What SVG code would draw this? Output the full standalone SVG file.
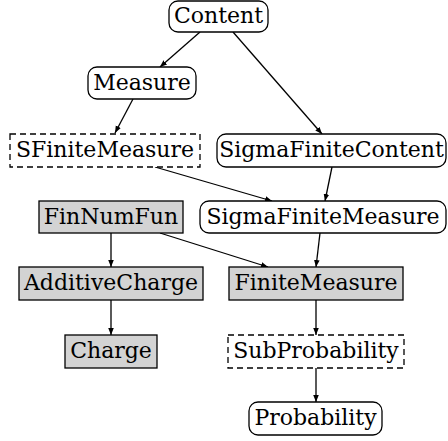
<svg xmlns="http://www.w3.org/2000/svg" width="448" height="441" viewBox="0 0 448 441">
<style>
.n rect{stroke:#000;stroke-width:1.3;fill:#fff}
.n.g rect{fill:#d3d3d3}
.n.d rect{stroke-dasharray:6,4}
.n text{font-family:"DejaVu Serif",serif;font-size:22px;fill:#000;text-anchor:middle;dominant-baseline:central}
#edges line{stroke:#000;stroke-width:1.3;marker-end:url(#a)}
</style>
<defs>
<marker id="a" viewBox="0 0 10 10" refX="10" refY="5" markerWidth="7" markerHeight="7" orient="auto" markerUnits="userSpaceOnUse">
<path d="M0,1 L10,5 L0,9 z" fill="#000"/>
</marker>
</defs>
<rect width="448" height="441" fill="#fff"/>
<g id="edges">
<line x1="200" y1="32" x2="160" y2="67"/>
<line x1="233" y1="32" x2="322" y2="134"/>
<line x1="133" y1="99" x2="115" y2="133"/>
<line x1="155" y1="167" x2="272" y2="201"/>
<line x1="332" y1="167" x2="325" y2="201"/>
<line x1="111" y1="233" x2="111" y2="267"/>
<line x1="160" y1="233" x2="268" y2="267"/>
<line x1="320" y1="233" x2="316" y2="267"/>
<line x1="111" y1="300" x2="111" y2="335"/>
<line x1="316" y1="300" x2="316" y2="335"/>
<line x1="316" y1="368" x2="316" y2="402"/>
</g>
<g id="Content" class="n"><rect x="169" y="1" width="99" height="31" rx="9"/><text x="218.5" y="15.5">Content</text></g>
<g id="Measure" class="n"><rect x="88" y="67" width="108" height="32" rx="9"/><text x="142" y="82">Measure</text></g>
<g id="SFiniteMeasure" class="n d"><rect x="10" y="134" width="190" height="33"/><text x="105" y="149.5">SFiniteMeasure</text></g>
<g id="SigmaFiniteContent" class="n"><rect x="217" y="134" width="229" height="33" rx="9"/><text x="331.5" y="149.5">SigmaFiniteContent</text></g>
<g id="FinNumFun" class="n g"><rect x="39" y="201" width="144" height="32"/><text x="111" y="216">FinNumFun</text></g>
<g id="SigmaFiniteMeasure" class="n"><rect x="200" y="201" width="246" height="32" rx="9"/><text x="323" y="216">SigmaFiniteMeasure</text></g>
<g id="AdditiveCharge" class="n g"><rect x="19" y="267" width="184" height="33"/><text x="111" y="282.5">AdditiveCharge</text></g>
<g id="FiniteMeasure" class="n g"><rect x="229" y="267" width="174" height="33"/><text x="316" y="282.5">FiniteMeasure</text></g>
<g id="Charge" class="n g"><rect x="65" y="335" width="92" height="33"/><text x="111" y="350.5">Charge</text></g>
<g id="SubProbability" class="n d"><rect x="228" y="335" width="176" height="33"/><text x="316" y="350.5">SubProbability</text></g>
<g id="Probability" class="n"><rect x="249" y="402" width="133" height="33" rx="9"/><text x="315.5" y="417.5">Probability</text></g>
</svg>
